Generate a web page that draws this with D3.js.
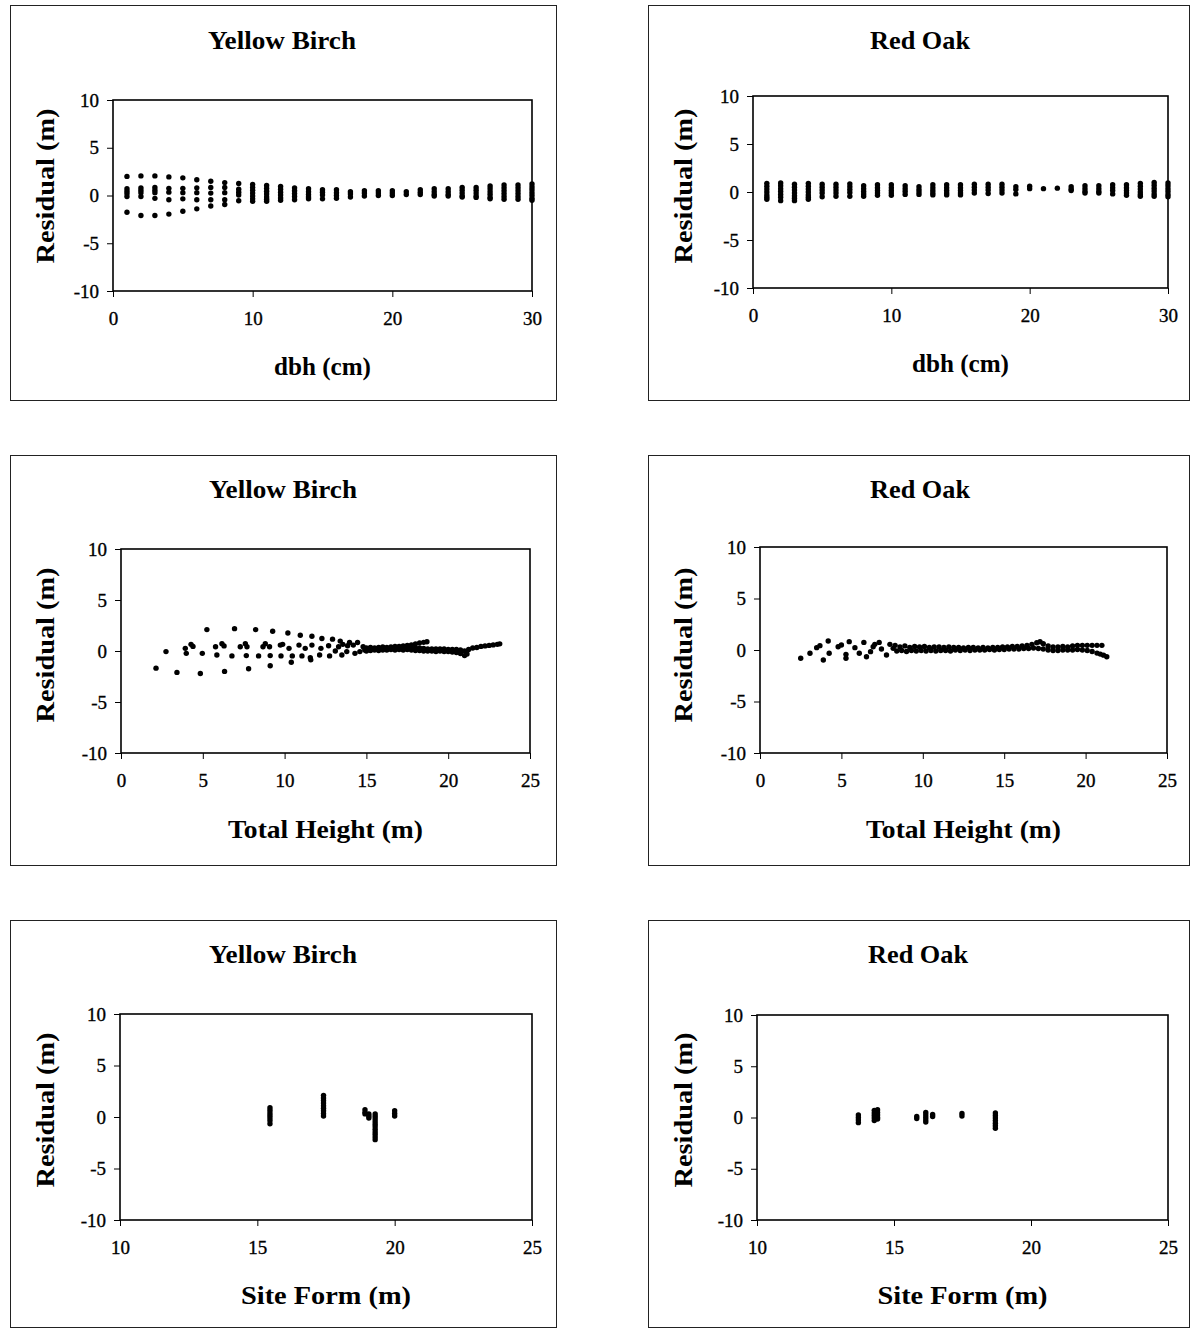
<!DOCTYPE html>
<html>
<head>
<meta charset="utf-8">
<script src="https://cdn.jsdelivr.net/npm/d3@7"></script>
<style>
    body { margin: 0; background: #fff; }
    svg { display: block; }
    text { font-family: "Liberation Serif", "Times New Roman", serif; fill: #000; }
    .title, .axis-title { font-weight: bold; }
    .tick line { stroke: #000; }
    .tick text { stroke: #000; stroke-width: 0.35px; }
</style>
</head>
<body>
<svg id="chart" width="1190" height="1328"></svg>
<script>
/**
 * Data.
 */
const residualTicks = [-10, -5, 0, 5, 10];
const dbhTicks = [0, 10, 20, 30];
const heightTicks = [0, 5, 10, 15, 20, 25];
const siteTicks = [10, 15, 20, 25];

// Columns: [dbh, residuals]
const ybDbh = [
    [1, [2.0, 0.7, 0.45, 0.2, -0.1, -1.75]],
    [2, [2.05, 0.8, 0.55, 0.3, -0.1, -2.1]],
    [3, [2.05, 0.85, 0.55, 0.3, -0.3, -2.1]],
    [4, [1.95, 0.75, 0.35, -0.45, -1.95]],
    [5, [1.85, 0.75, 0.3, -0.35, -1.65]],
    [6, [1.65, 0.8, 0.3, -0.45, -1.4]],
    [7, [1.5, 0.85, 0.25, -0.45, -1.1]],
    [8, [1.35, 0.85, 0.3, -0.45, -0.95]],
    [9, [1.25, 0.65, 0.35, 0.05, -0.55]],
    [10, [1.15, 0.85, 0.55, 0.25, -0.05, -0.35, -0.6]],
    [11, [1.05, 0.75, 0.45, 0.15, -0.15, -0.4, -0.6]],
    [12, [0.95, 0.65, 0.35, 0.05, -0.25, -0.5]],
    [13, [0.8, 0.5, 0.2, -0.1, -0.45]],
    [14, [0.7, 0.4, 0.1, -0.15, -0.35]],
    [15, [0.6, 0.35, 0.05, -0.35]],
    [16, [0.6, 0.3, 0.0, -0.3]],
    [17, [0.4, 0.15, -0.15]],
    [18, [0.5, 0.25, -0.05]],
    [19, [0.5, 0.25, 0.0]],
    [20, [0.5, 0.25, 0.0]],
    [21, [0.4, 0.1]],
    [22, [0.6, 0.35, 0.1]],
    [23, [0.7, 0.4, 0.1, -0.05]],
    [24, [0.7, 0.4, 0.1, -0.05]],
    [25, [0.85, 0.55, 0.25, -0.05, -0.15]],
    [26, [0.85, 0.55, 0.25, -0.05, -0.2]],
    [27, [1.0, 0.7, 0.4, 0.1, -0.2, -0.35]],
    [28, [1.1, 0.8, 0.5, 0.2, -0.1, -0.4]],
    [29, [1.1, 0.8, 0.5, 0.2, -0.1, -0.4]],
    [30, [1.2, 0.9, 0.6, 0.3, 0.0, -0.3, -0.5]]
];

const roDbh = [
    [1, [0.9, 0.6, 0.3, 0.0, -0.3, -0.55, -0.75]],
    [2, [0.95, 0.65, 0.35, 0.05, -0.25, -0.55, -0.9]],
    [3, [0.8, 0.5, 0.2, -0.1, -0.4, -0.65, -0.9]],
    [4, [0.9, 0.6, 0.3, 0.0, -0.3, -0.55, -0.75]],
    [5, [0.8, 0.5, 0.2, -0.1, -0.5]],
    [6, [0.8, 0.5, 0.2, -0.1, -0.45]],
    [7, [0.85, 0.55, 0.25, -0.05, -0.45]],
    [8, [0.65, 0.35, 0.05, -0.2, -0.45]],
    [9, [0.75, 0.45, 0.15, -0.1, -0.35]],
    [10, [0.75, 0.45, 0.15, -0.1, -0.35]],
    [11, [0.65, 0.35, 0.05, -0.25]],
    [12, [0.55, 0.25, 0.0, -0.25]],
    [13, [0.75, 0.45, 0.15, -0.1, -0.3]],
    [14, [0.75, 0.45, 0.15, -0.1, -0.3]],
    [15, [0.75, 0.45, 0.15, -0.1, -0.3]],
    [16, [0.8, 0.5, 0.2, -0.1]],
    [17, [0.8, 0.5, 0.2, -0.15]],
    [18, [0.8, 0.5, 0.2, -0.1]],
    [19, [0.55, 0.25, -0.2]],
    [20, [0.6, 0.35]],
    [21, [0.35]],
    [22, [0.4]],
    [23, [0.55, 0.3, 0.15]],
    [24, [0.65, 0.35, 0.05, -0.1]],
    [25, [0.65, 0.35, 0.05, -0.1]],
    [26, [0.75, 0.45, 0.15, -0.2]],
    [27, [0.75, 0.45, 0.15, -0.1, -0.35]],
    [28, [0.9, 0.6, 0.3, 0.0, -0.25, -0.45]],
    [29, [1.0, 0.7, 0.4, 0.1, -0.2, -0.45]],
    [30, [0.95, 0.65, 0.35, 0.05, -0.25, -0.5]]
];

// Points: [total height, residual]
const ybHeight = [
    [2.14, -1.68], [2.75, -0.06], [3.42, -2.1], [3.93, 0.26], [3.99, -0.23],
    [4.28, 0.65], [4.4, 0.45], [4.85, -2.2], [4.97, -0.23], [5.25, 2.1], [5.78, 0.42],
    [5.86, -0.39], [6.17, 0.71], [6.3, 0.5], [6.33, -2.0], [6.78, -0.48], [6.94, 2.19],
    [7.29, 0.42], [7.6, 0.71], [7.7, 0.42], [7.66, -0.45], [7.8, -1.74],
    [8.23, 2.1], [8.41, -0.48], [8.68, 0.42], [8.82, 0.71], [9.08, 0.42],
    [9.12, -0.45], [9.12, -1.45], [9.27, 1.94], [9.74, 0.58], [9.88, 0.65],
    [9.78, -0.48], [10.2, 1.77], [10.27, 0.26], [10.47, -0.48], [10.41, -1.1],
    [10.88, 0.58], [10.96, 1.55], [11.06, -0.48], [11.26, 0.26], [11.57, -0.65],
    [11.6, -0.87], [11.67, 0.58], [11.67, 1.45], [12.14, -0.39], [12.22, 0.26],
    [12.28, 1.23], [12.69, 0.52], [12.75, -0.48], [12.93, 1.16], [13.1, 0.0],
    [13.3, 0.42], [13.4, 0.97], [13.56, 0.65], [13.5, -0.39], [13.8, -0.06],
    [13.85, 0.52], [13.97, 0.84], [14.2, 0.58], [14.3, -0.23], [14.46, 0.84],
    [14.6, -0.06], [14.8, 0.42], [14.9, 0.1],
    [15.0, 0.3], [15.25, 0.35], [15.5, 0.3], [15.75, 0.35], [16.0, 0.4], [16.25, 0.35],
    [16.5, 0.4], [16.75, 0.45], [17.0, 0.45], [17.25, 0.5], [17.5, 0.55], [17.75, 0.6],
    [18.0, 0.7], [18.25, 0.8], [18.5, 0.85], [18.7, 0.9],
    [15.0, 0.0], [15.25, 0.05], [15.5, 0.1], [15.75, 0.05], [16.0, 0.1], [16.25, 0.1],
    [16.5, 0.15], [16.75, 0.1], [17.0, 0.15], [17.25, 0.1], [17.5, 0.15], [17.75, 0.1],
    [18.0, 0.05], [18.25, 0.05], [18.5, 0.0], [18.75, 0.0], [19.0, 0.0], [19.25, -0.05],
    [19.5, 0.0], [19.75, -0.05], [20.0, -0.05], [20.25, -0.1], [20.5, -0.15],
    [20.75, -0.25], [21.0, -0.45], [21.15, -0.3],
    [17.5, 0.35], [17.75, 0.3], [18.0, 0.3], [18.25, 0.3], [18.5, 0.25], [18.75, 0.2],
    [19.0, 0.2], [19.25, 0.2], [19.5, 0.2], [19.75, 0.2], [20.0, 0.15], [20.25, 0.15],
    [20.5, 0.15], [20.75, 0.1], [21.0, 0.0], [21.25, 0.15], [21.5, 0.3], [21.75, 0.35],
    [22.0, 0.45], [22.25, 0.5], [22.5, 0.55], [22.75, 0.6], [23.0, 0.65], [23.15, 0.7],
    [15.1, 0.15], [15.6, 0.2], [16.1, 0.25], [16.6, 0.25], [17.1, 0.3]
];

const roHeight = [
    [2.5, -0.8], [3.07, -0.32], [3.48, 0.23], [3.68, 0.42], [3.89, -0.97],
    [4.19, 0.87], [4.25, -0.32], [4.8, 0.32], [5.0, 0.48], [5.28, -0.42],
    [5.28, -0.8], [5.48, 0.81], [5.83, 0.23], [6.1, -0.32], [6.38, 0.74],
    [6.54, -0.65], [6.79, -0.16], [6.95, 0.32], [7.05, 0.55], [7.32, 0.74],
    [7.46, 0.1], [7.77, -0.48], [7.98, 0.55], [8.18, 0.16],
    [8.3, 0.45], [8.6, 0.3], [8.9, 0.4], [9.2, 0.25], [9.5, 0.35], [9.8, 0.3],
    [10.1, 0.35], [10.4, 0.25], [10.7, 0.3], [11.0, 0.3], [11.3, 0.25], [11.6, 0.3],
    [11.9, 0.25], [12.2, 0.25], [12.5, 0.2], [12.8, 0.25], [13.1, 0.25], [13.4, 0.2],
    [13.7, 0.25], [14.0, 0.2], [14.3, 0.25], [14.6, 0.25], [14.9, 0.3], [15.2, 0.3],
    [15.5, 0.35], [15.8, 0.35], [16.1, 0.4], [16.4, 0.45], [16.7, 0.55], [17.0, 0.7],
    [17.2, 0.8], [17.4, 0.6], [17.7, 0.4], [18.0, 0.3], [18.3, 0.3], [18.6, 0.35],
    [18.9, 0.3], [19.2, 0.4], [19.5, 0.45], [19.8, 0.45], [20.1, 0.45], [20.4, 0.45],
    [20.7, 0.45], [21.0, 0.45],
    [8.4, -0.1], [8.7, -0.05], [9.0, -0.15], [9.3, -0.05], [9.6, -0.1], [9.9, -0.05],
    [10.2, -0.1], [10.5, -0.05], [10.8, -0.1], [11.1, -0.05], [11.4, -0.05], [11.7, -0.1],
    [12.0, 0.0], [12.3, -0.05], [12.6, 0.0], [12.9, -0.05], [13.2, 0.0], [13.5, 0.0],
    [13.8, 0.0], [14.1, 0.05], [14.4, 0.0], [14.7, 0.05], [15.0, 0.05], [15.3, 0.1],
    [15.6, 0.1], [15.9, 0.1], [16.2, 0.15], [16.5, 0.15], [16.8, 0.2], [17.1, 0.15],
    [17.4, 0.1], [17.7, 0.0], [18.0, -0.05], [18.3, -0.05], [18.6, 0.0], [18.9, 0.0],
    [19.2, 0.0], [19.5, 0.05], [19.8, 0.0], [20.1, -0.05], [20.4, -0.15], [20.7, -0.3],
    [20.9, -0.4], [21.1, -0.5], [21.3, -0.65]
];

// Columns: [site form, residuals]
const ybSite = [
    [15.46, [0.9, 0.65, 0.4, 0.15, -0.1, -0.35, -0.65]],
    [17.41, [2.1, 1.85, 1.6, 1.35, 1.1, 0.85, 0.6, 0.35, 0.1]],
    [18.92, [0.7, 0.45, 0.3]],
    [19.06, [0.3, 0.1, -0.1]],
    [19.29, [0.3, 0.05, -0.2, -0.45, -0.7, -0.95, -1.2, -1.45, -1.7, -1.95, -2.2]],
    [20.0, [0.6, 0.35, 0.1]]
];

const roSite = [
    [13.7, [0.25, 0.0, -0.25, -0.5]],
    [14.28, [0.7, 0.45, 0.2, -0.05, -0.3]],
    [14.4, [0.75, 0.5, 0.25, 0.0, -0.15]],
    [15.83, [0.1, -0.1]],
    [16.16, [0.5, 0.25, 0.0, -0.25, -0.45]],
    [16.41, [0.3, 0.1]],
    [17.48, [0.4, 0.15]],
    [18.7, [0.45, 0.2, -0.05, -0.3, -0.55, -0.8, -1.05]]
];

/**
 * Turns [x, [residuals]] columns into [x, residual] points.
 */
function columnsToPoints(cols) {
    return cols.flatMap(([x, rs]) => rs.map(r => [x, r]));
}

const panels = [
    { title: 'Yellow Birch', xLabel: 'dbh (cm)', xDomain: [0, 30], xTicks: dbhTicks, points: columnsToPoints(ybDbh) },
    { title: 'Red Oak', xLabel: 'dbh (cm)', xDomain: [0, 30], xTicks: dbhTicks, points: columnsToPoints(roDbh) },
    { title: 'Yellow Birch', xLabel: 'Total Height (m)', xDomain: [0, 25], xTicks: heightTicks, points: ybHeight },
    { title: 'Red Oak', xLabel: 'Total Height (m)', xDomain: [0, 25], xTicks: heightTicks, points: roHeight },
    { title: 'Yellow Birch', xLabel: 'Site Form (m)', xDomain: [10, 25], xTicks: siteTicks, points: columnsToPoints(ybSite) },
    { title: 'Red Oak', xLabel: 'Site Form (m)', xDomain: [10, 25], xTicks: siteTicks, points: columnsToPoints(roSite) }
];

/**
 * Layout of each panel on the page (frame box, plot box, text spots).
 */
const layout = [
    { frame: [10, 5, 556, 400], plot: [113, 100, 532, 291], titleX: 282, titleY: 49, yTitleX: 54, yTitleY: 186, xTitleY: 375 },
    { frame: [648, 5, 1189, 400], plot: [753, 96, 1168, 288], titleX: 920, titleY: 49, yTitleX: 692, yTitleY: 186, xTitleY: 372 },
    { frame: [10, 455, 556, 865], plot: [121, 549, 530, 753], titleX: 283, titleY: 498, yTitleX: 54, yTitleY: 645, xTitleY: 838 },
    { frame: [648, 455, 1189, 865], plot: [760, 547, 1167, 753], titleX: 920, titleY: 498, yTitleX: 692, yTitleY: 645, xTitleY: 838 },
    { frame: [10, 920, 556, 1327], plot: [120, 1014, 532, 1220], titleX: 283, titleY: 963, yTitleX: 54, yTitleY: 1110, xTitleY: 1304 },
    { frame: [648, 920, 1189, 1327], plot: [757, 1015, 1168, 1220], titleX: 918, titleY: 963, yTitleX: 692, yTitleY: 1110, xTitleY: 1304 }
];

const textWidths = {
    'Yellow Birch': 148, 'Red Oak': 100,
    'dbh (cm)': 97, 'Total Height (m)': 195, 'Site Form (m)': 170,
    'Residual (m)': 155
};

const serif = '"Liberation Serif", "Times New Roman", serif';
const radius = 2.7;
const svg = d3.select('#chart');

panels.forEach((p, i) => drawPanel(svg.append('g').attr('class', 'panel'), p, layout[i]));

/**
 * Draws one residual plot.
 */
function drawPanel(g, p, L) {
    const [fx0, fy0, fx1, fy1] = L.frame,
        [px0, py0, px1, py1] = L.plot;

    g.append('rect')
        .attr('x', fx0 + 0.5).attr('y', fy0 + 0.5)
        .attr('width', fx1 - fx0).attr('height', fy1 - fy0)
        .attr('fill', 'none').attr('stroke', '#222').attr('stroke-width', 1);

    const x = d3.scaleLinear().domain(p.xDomain).range([px0, px1]),
        y = d3.scaleLinear().domain([-10, 10]).range([py1, py0]);

    // Plain hyphen for negatives, as in the picture
    const fmt = d => String(d);

    g.append('g')
        .attr('transform', 'translate(' + px0 + ',0)')
        .call(d3.axisLeft(y).tickValues(residualTicks).tickFormat(fmt).tickSize(6).tickPadding(8).tickSizeOuter(0))
        .call(a => a.select('.domain').remove())
        .attr('font-family', serif)
        .selectAll('text').style('font-family', serif).style('font-size', '19px');

    g.append('g')
        .attr('transform', 'translate(0,' + py1 + ')')
        .call(d3.axisBottom(x).tickValues(p.xTicks).tickFormat(fmt).tickSize(6).tickPadding(15).tickSizeOuter(0))
        .call(a => a.select('.domain').remove())
        .attr('font-family', serif)
        .selectAll('text').style('font-family', serif).style('font-size', '19px');

    g.append('rect')
        .attr('x', px0).attr('y', py0)
        .attr('width', px1 - px0).attr('height', py1 - py0)
        .attr('fill', 'none').attr('stroke', '#000').attr('stroke-width', 1.6);

    g.append('g').attr('class', 'dots')
        .selectAll('circle').data(p.points).join('circle')
        .attr('cx', d => x(d[0]))
        .attr('cy', d => y(d[1]))
        .attr('r', radius)
        .attr('fill', '#000');

    addText(g, p.title, L.titleX, L.titleY, 'title');
    addText(g, p.xLabel, (px0 + px1) / 2, L.xTitleY, 'axis-title');
    addText(g, 'Residual (m)', 0, 0, 'axis-title')
        .attr('transform', 'translate(' + L.yTitleX + ',' + L.yTitleY + ') rotate(-90)');
}

function addText(g, str, tx, ty, cls) {
    return g.append('text')
        .attr('class', cls)
        .attr('x', tx).attr('y', ty)
        .attr('text-anchor', 'middle')
        .style('font-size', '25px')
        .attr('textLength', textWidths[str])
        .attr('lengthAdjust', 'spacingAndGlyphs')
        .text(str);
}
</script>
</body>
</html>
